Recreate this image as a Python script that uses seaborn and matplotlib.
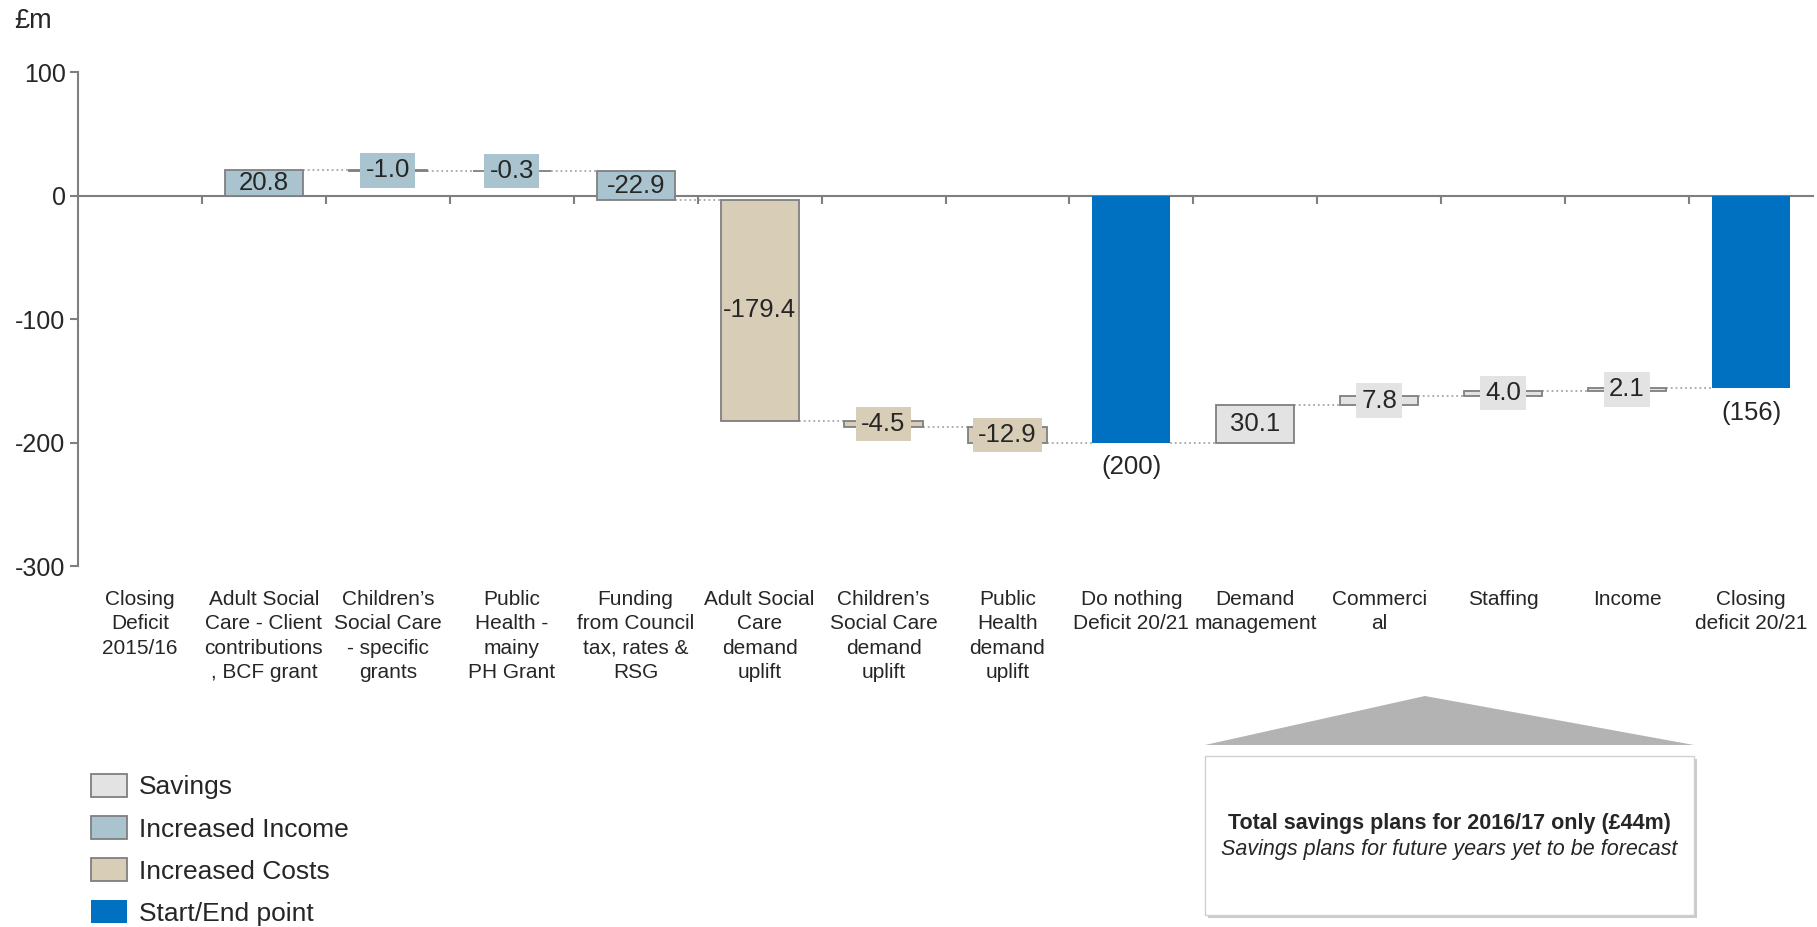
import numpy as np
import pandas as pd
import matplotlib
matplotlib.use("Agg")
from matplotlib import pyplot as plt
from matplotlib.patches import Patch, Polygon, Rectangle
import matplotlib.patheffects as pe
import seaborn as sns

# %%
# Data read off the reference waterfall (£m)
categories = [
    "Closing\nDeficit\n2015/16",
    "Adult Social\nCare - Client\ncontributions\n, BCF grant",
    "Children\u2019s\nSocial Care\n- specific\ngrants",
    "Public\nHealth -\nmainy\nPH Grant",
    "Funding\nfrom Council\ntax, rates &\nRSG",
    "Adult Social\nCare\ndemand\nuplift",
    "Children\u2019s\nSocial Care\ndemand\nuplift",
    "Public\nHealth\ndemand\nuplift",
    "Do nothing\nDeficit 20/21",
    "Demand\nmanagement",
    "Commerci\nal",
    "Staffing",
    "Income",
    "Closing\ndeficit 20/21",
]
changes = [0, 20.8, -1.0, -0.3, -22.9, -179.4, -4.5, -12.9, -200, 30.1, 7.8, 4.0, 2.1, -156]
kinds = ["total", "income", "income", "income", "income", "cost", "cost", "cost",
         "total", "saving", "saving", "saving", "saving", "total"]
value_labels = ["", "20.8", "-1.0", "-0.3", "-22.9", "-179.4", "-4.5", "-12.9",
                "(200)", "30.1", "7.8", "4.0", "2.1", "(156)"]

kind_colors = {
    "saving": "#E3E3E3",
    "income": "#A9C4CE",
    "cost": "#D8CDB6",
    "total": "#0070C0",
}
legend_names = {
    "saving": "Savings",
    "income": "Increased Income",
    "cost": "Increased Costs",
    "total": "Start/End point",
}
edge_gray = "#7F7F7F"

# running levels for the waterfall
bottoms, ends = [], []
level = 0.0
for ch, k in zip(changes, kinds):
    if k == "total":
        bottoms.append(0.0)
        level = ch
    else:
        bottoms.append(level)
        level += ch
    ends.append(level)

df = pd.DataFrame({"category": categories, "change": changes, "kind": kinds})

# %%
sns.set_style("white")
plt.rcParams["font.family"] = ["Liberation Sans", "DejaVu Sans"]
plt.rcParams["axes.unicode_minus"] = False

W, H = 1817, 927
fig = plt.figure(figsize=(W / 100, H / 100), dpi=100)
ax = fig.add_axes([78 / W, 1 - 566 / H, (1813 - 78) / W, (566 - 72) / H])

bar_w = 0.63
sns.barplot(
    data=df, x="category", y="change", hue="category",
    palette=[kind_colors[k] for k in kinds],
    width=bar_w, saturation=1, legend=False, ax=ax,
)
for patch, b, k in zip(ax.patches, bottoms, kinds):
    patch.set_y(b)
    if k == "total":
        patch.set_edgecolor("none")
    else:
        patch.set_edgecolor(edge_gray)
        patch.set_linewidth(1.3)
    patch.set_zorder(3)

# dotted connectors between bars
for i in range(1, len(categories) - 1):
    ax.plot([i + bar_w / 2, i + 1 - bar_w / 2], [ends[i], ends[i]],
            ls=":", color="#A6A6A6", lw=1.3, zorder=2)

# value labels
for i, (lab, ch, b, k) in enumerate(zip(value_labels, changes, bottoms, kinds)):
    if not lab:
        continue
    if k == "total":
        ax.annotate(lab, (i, ch), xytext=(0, -9), textcoords="offset points",
                    ha="center", va="top", fontsize=18.5, zorder=5)
    else:
        box = None
        if abs(ch) < 15:
            box = dict(facecolor=kind_colors[k], edgecolor="none", boxstyle="square,pad=0.2")
        ax.text(i, b + ch / 2, lab, ha="center", va="center", fontsize=18.5,
                bbox=box, zorder=5)

ax.set_ylim(-300, 100)
ax.set_xlim(-0.5, len(categories) - 0.5)
ax.set_yticks([100, 0, -100, -200, -300])
ax.set_xlabel("")
ax.set_ylabel("")
for s in ["top", "right", "bottom"]:
    ax.spines[s].set_visible(False)
ax.spines["left"].set_color(edge_gray)
ax.spines["left"].set_linewidth(1.5)
ax.tick_params(axis="y", direction="out", length=6, width=1.5, color=edge_gray,
               labelsize=18, pad=3, left=True)
ax.tick_params(axis="x", length=0, labelsize=15, pad=17)
for t in ax.get_xticklabels():
    t.set_linespacing(1.37)
    t.set_va("top")

# zero line with boundary ticks
zero_frac = (0 - (-300)) / 400
sec = ax.secondary_xaxis(zero_frac)
sec.set_alignment("bottom")
sec.set_xticks(np.arange(0.5, len(categories) - 1, 1.0), labels=[""] * (len(categories) - 1))
sec.spines["bottom"].set_color(edge_gray)
sec.spines["bottom"].set_linewidth(1.5)
sec.tick_params(direction="out", length=6, width=1.5, color=edge_gray)

fig.text(14 / W, 1 - 21 / H, "\u00a3m", fontsize=19.5, va="center", ha="left")

# legend
handles = []
for k in ["saving", "income", "cost", "total"]:
    handles.append(Patch(facecolor=kind_colors[k],
                         edgecolor="none" if k == "total" else edge_gray,
                         linewidth=1.3, label=legend_names[k]))
fig.legend(handles=handles, loc="upper left", bbox_to_anchor=(91 / W, 1 - 774 / H),
           frameon=False, fontsize=19, handlelength=1.36, handleheight=0.95,
           handletextpad=0.45, labelspacing=0.63, borderpad=0, borderaxespad=0)

# callout for savings
tri = Polygon([[1205 / W, 1 - 745 / H], [1425 / W, 1 - 696 / H], [1694 / W, 1 - 745 / H]],
              closed=True, transform=fig.transFigure, facecolor="#B3B3B3", edgecolor="none")
fig.add_artist(tri)
box = Rectangle((1205 / W, 1 - 915 / H), (1694 - 1205) / W, (915 - 756) / H,
                transform=fig.transFigure, facecolor="white", edgecolor="#D0D0D0", lw=1,
                path_effects=[pe.SimplePatchShadow(offset=(2, -2), shadow_rgbFace="#999999", alpha=0.5),
                              pe.Normal()])
fig.add_artist(box)
fig.text(1449 / W, 1 - 823 / H, "Total savings plans for 2016/17 only (\u00a344m)",
         fontsize=15.5, fontweight="bold", ha="center", va="center")
fig.text(1449 / W, 1 - 849 / H, "Savings plans for future years yet to be forecast",
         fontsize=15.5, fontstyle="italic", ha="center", va="center")

fig.savefig("out.png", dpi=100)
